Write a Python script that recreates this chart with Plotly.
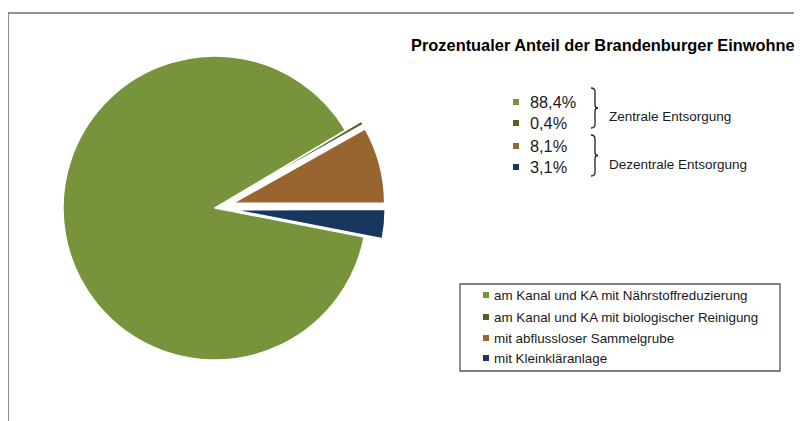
import plotly.graph_objects as go

# ---- data ----
categories = [
    "am Kanal und KA mit Nährstoffreduzierung",
    "am Kanal und KA mit biologischer Reinigung",
    "mit abflussloser Sammelgrube",
    "mit Kleinkläranlage",
]
values = [88.4, 0.4, 8.1, 3.1]
groups = ["Zentrale Entsorgung", "Dezentrale Entsorgung"]
title_text = "Prozentualer Anteil der Brandenburger Einwohner"

# ---- style ----
colors = ["#77933C", "#4F6228", "#986531", "#17375E"]
pulls = [0, 0.12, 0.12, 0.12]
W, H = 802, 421
OX, OY = 8, 8  # default page body margin in the browser
FONT = "Liberation Sans, Arial, sans-serif"


def X(px):
    return (px - OX) / W


def Y(py):
    return 1 - (py - OY) / H


pct_labels = [f"{v:.1f}".replace(".", ",") + "%" for v in values]

# pie geometry (window pixels)
cx, cy, r = 215, 208, 152
half = r * (1 + max(pulls))

fig = go.Figure()
fig.add_trace(go.Pie(
    labels=categories,
    values=values,
    sort=False,
    direction="clockwise",
    rotation=101,
    pull=pulls,
    marker=dict(colors=colors, line=dict(color="white", width=1.5)),
    textinfo="none",
    showlegend=False,
    domain=dict(x=[X(cx - half), X(cx + half)], y=[Y(cy + half), Y(cy - half)]),
))

shapes = []
annotations = []

# outer frame (extends beyond the window on the right and bottom)
shapes.append(dict(type="rect", xref="paper", yref="paper",
                   x0=X(8), x1=X(840), y0=Y(13), y1=Y(460),
                   line=dict(color="#6f6f6f", width=1.6), fillcolor="rgba(0,0,0,0)"))

# title
annotations.append(dict(text="<b>" + title_text + "</b>", x=X(409), y=Y(45),
                        xref="paper", yref="paper",
                        xanchor="left", yanchor="middle", showarrow=False,
                        font=dict(family=FONT, size=16.4, color="#000000")))

# upper legend (percentages)
up_rows = [102, 123, 146, 167]
for lab, col, ry in zip(pct_labels, colors, up_rows):
    shapes.append(dict(type="rect", xref="paper", yref="paper",
                       x0=X(513), x1=X(519), y0=Y(ry + 3), y1=Y(ry - 3),
                       line=dict(width=0), fillcolor=col))
    annotations.append(dict(text=lab, x=X(528), y=Y(ry), xref="paper", yref="paper",
                            xanchor="left", yanchor="middle", showarrow=False,
                            font=dict(family=FONT, size=16.3, color="#1a1a1a")))

# braces and group labels
brace_spans = [(88, 128), (135, 176)]
group_y = [117, 164]
for (t, b), g, gy in zip(brace_spans, groups, group_y):
    m = (t + b) / 2
    bx = 595
    path = (f"M{X(bx-4)},{Y(t)} Q{X(bx)},{Y(t)} {X(bx)},{Y(t+4)} "
            f"L{X(bx)},{Y(m-3)} Q{X(bx)},{Y(m)} {X(bx+3)},{Y(m)} "
            f"Q{X(bx)},{Y(m)} {X(bx)},{Y(m+3)} "
            f"L{X(bx)},{Y(b-4)} Q{X(bx)},{Y(b)} {X(bx-4)},{Y(b)}")
    shapes.append(dict(type="path", xref="paper", yref="paper", path=path,
                       line=dict(color="#222222", width=1.3)))
    annotations.append(dict(text=g, x=X(607), y=Y(gy), xref="paper", yref="paper",
                            xanchor="left", yanchor="middle", showarrow=False,
                            font=dict(family=FONT, size=13.5, color="#1a1a1a")))

# lower boxed legend (category names)
shapes.append(dict(type="rect", xref="paper", yref="paper",
                   x0=X(460), x1=X(780), y0=Y(371), y1=Y(284),
                   line=dict(color="#555555", width=1.3), fillcolor="white"))
low_rows = [295, 317, 338, 358]
for lab, col, ry in zip(categories, colors, low_rows):
    shapes.append(dict(type="rect", xref="paper", yref="paper",
                       x0=X(483), x1=X(489), y0=Y(ry + 3), y1=Y(ry - 3),
                       line=dict(width=0), fillcolor=col))
    annotations.append(dict(text=lab, x=X(492), y=Y(ry), xref="paper", yref="paper",
                            xanchor="left", yanchor="middle", showarrow=False,
                            font=dict(family=FONT, size=13.4, color="#1a1a1a")))

fig.update_layout(
    width=W, height=H,
    margin=dict(l=0, r=0, t=0, b=0),
    paper_bgcolor="white", plot_bgcolor="white",
    shapes=shapes, annotations=annotations,
    showlegend=False,
)

fig.write_html("out.html")
